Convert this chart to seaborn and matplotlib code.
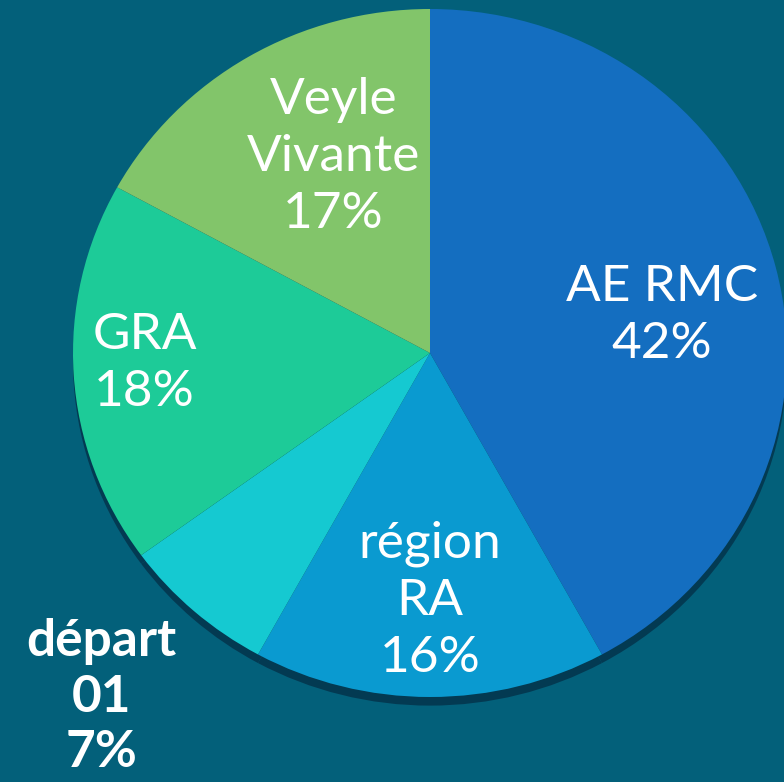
import matplotlib
matplotlib.use("Agg")
import matplotlib.pyplot as plt
import seaborn as sns

# funding shares
labels = ["AE RMC", "région\nRA", "départ\n01", "GRA", "Veyle\nVivante"]
shares = [42, 16, 7, 18, 17]
colors = ["#146ec0", "#0a9ad0", "#15c9d1", "#1dcb98", "#82c56a"]
bg = "#03607a"

sns.set_theme(style="white")
plt.rcParams['font.family'] = ['Lato', 'DejaVu Sans']

fig = plt.figure(figsize=(7.84, 7.82), dpi=100, facecolor=bg)
ax = fig.add_axes([73/784, 85/782, 714/784, 688/782])
ax.set_facecolor(bg)

# shadow under the pie
ax.pie(shares, colors=["#033a52"] * len(shares), startangle=90, counterclock=False,
       center=(0, -0.025), radius=1.0, wedgeprops=dict(linewidth=0))
wedges, _ = ax.pie(shares, colors=colors, startangle=90, counterclock=False,
                   radius=1.0, wedgeprops=dict(linewidth=0))
ax.set_aspect('auto')
ax.set_xlim(-1, 1)
ax.set_ylim(-1, 1)
ax.axis('off')

# label positions (data coords), one per slice
label_pos = [(0.65, 0.11), (0.0, -0.72), (-0.92, -1.0), (-0.80, -0.03), (-0.27, 0.57)]
for lab, val, (x, y) in zip(labels, shares, label_pos):
    if lab.startswith("départ"):
        weight, size, ls = 'bold', 37, 1.22
    else:
        weight, size, ls = 'normal', 37, 1.3
    ax.text(x, y, f"{lab}\n{val}%", ha='center', va='center', color='white',
            fontsize=size, fontweight=weight, linespacing=ls, clip_on=False)

fig.savefig("out.png", dpi=100, facecolor=bg)
